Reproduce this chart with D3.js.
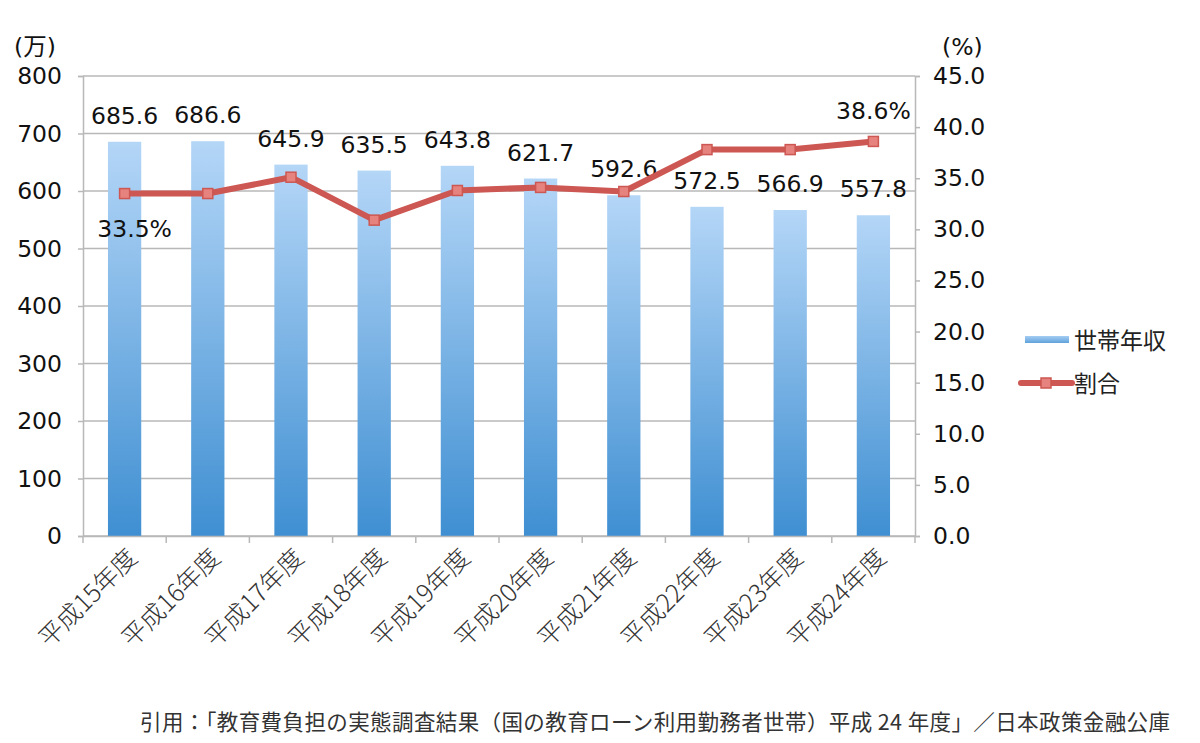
<!DOCTYPE html>
<html>
<head>
<meta charset="utf-8">
<script src="https://cdn.jsdelivr.net/npm/d3@7"></script>
<style>
  body { margin: 0; background: #fff; }
  text { font-family: "DejaVu Sans", "Noto Sans CJK JP", sans-serif; }
  .jp { font-family: "Noto Sans CJK JP", sans-serif; }
</style>
</head>
<body>
<div id="chart"></div>
<script>
// データ
const years = ['平成15年度','平成16年度','平成17年度','平成18年度','平成19年度','平成20年度','平成21年度','平成22年度','平成23年度','平成24年度'];
const income = [685.6, 686.6, 645.9, 635.5, 643.8, 621.7, 592.6, 572.5, 566.9, 557.8];
const ratio = [33.5, 33.5, 35.1, 30.9, 33.8, 34.1, 33.7, 37.8, 37.8, 38.6];
const leftTicks = [0, 100, 200, 300, 400, 500, 600, 700, 800];
const rightTicks = [0, 5, 10, 15, 20, 25, 30, 35, 40, 45];

const W = 1200, H = 743;
const pLeft = 83, pRight = 915, pTop = 76, pBottom = 536;
const fs = 23.5; // 数字のフォントサイズ

const svg = d3.select('#chart').append('svg').attr('width', W).attr('height', H);

const x = d3.scaleBand().domain(years).range([pLeft, pRight]).paddingInner(0.6).paddingOuter(0.3);
const xb = d3.scaleBand().domain(years).range([pLeft, pRight]);
const yL = d3.scaleLinear().domain([0, 800]).range([pBottom, pTop]);
const yR = d3.scaleLinear().domain([0, 45]).range([pBottom, pTop]);

// グラデーション
const defs = svg.append('defs');
const grad = defs.append('linearGradient')
  .attr('id', 'barGrad').attr('x1', 0).attr('y1', 0).attr('x2', 0).attr('y2', 1);
grad.append('stop').attr('offset', '0%').attr('stop-color', '#b4d6f7');
grad.append('stop').attr('offset', '100%').attr('stop-color', '#3f8fd2');

const lgrad = defs.append('linearGradient')
  .attr('id', 'legGrad').attr('x1', 0).attr('y1', 0).attr('x2', 0).attr('y2', 1);
lgrad.append('stop').attr('offset', '0%').attr('stop-color', '#a6cdf3');
lgrad.append('stop').attr('offset', '100%').attr('stop-color', '#5fa2dc');

// グリッド線
svg.append('g').selectAll('line').data(leftTicks).join('line')
  .attr('x1', pLeft).attr('x2', pRight)
  .attr('y1', d => yL(d)).attr('y2', d => yL(d))
  .attr('stroke', '#b8b8b8').attr('stroke-width', 1.5);

// 左軸
const gL = svg.append('g').attr('transform', `translate(${pLeft},0)`)
  .call(d3.axisLeft(yL).tickValues(leftTicks).tickSize(5).tickPadding(16));
gL.select('.domain').attr('stroke', '#b8b8b8').attr('stroke-width', 1.5);
gL.selectAll('.tick line').attr('stroke', '#b8b8b8').attr('stroke-width', 1.5);
gL.selectAll('text').attr('font-size', fs).attr('fill', '#111');

// 右軸
const gR = svg.append('g').attr('transform', `translate(${pRight},0)`)
  .call(d3.axisRight(yR).tickValues(rightTicks).tickSize(5).tickPadding(13).tickFormat(d3.format('.1f')));
gR.select('.domain').attr('stroke', '#b8b8b8').attr('stroke-width', 1.5);
gR.selectAll('.tick line').attr('stroke', '#b8b8b8').attr('stroke-width', 1.5);
gR.selectAll('text').attr('font-size', fs).attr('fill', '#111');

// 棒
svg.append('g').selectAll('rect').data(income).join('rect')
  .attr('x', (d, i) => x(years[i]))
  .attr('y', d => yL(d))
  .attr('width', x.bandwidth())
  .attr('height', d => pBottom - yL(d))
  .attr('fill', 'url(#barGrad)');

// X軸
const gX = svg.append('g').attr('transform', `translate(0,${pBottom})`)
  .call(d3.axisBottom(xb).tickSize(0).tickFormat(''));
gX.select('.domain').attr('stroke', '#b8b8b8').attr('stroke-width', 1.5);
svg.append('g').selectAll('line').data(d3.range(years.length + 1)).join('line')
  .attr('x1', i => pLeft + i * xb.step()).attr('x2', i => pLeft + i * xb.step())
  .attr('y1', pBottom).attr('y2', pBottom + 7)
  .attr('stroke', '#b8b8b8').attr('stroke-width', 1.5);

svg.append('g').selectAll('text').data(years).join('text')
  .attr('class', 'jp')
  .attr('transform', d => `translate(${xb(d) + xb.bandwidth() / 2 + 8},${pBottom + 17}) rotate(-45)`)
  .attr('text-anchor', 'end')
  .attr('dy', '0.35em')
  .attr('font-size', 25)
  .attr('font-weight', 300)
  .attr('fill', '#333')
  .text(d => d);

// 棒ラベル
svg.append('g').selectAll('text').data(income).join('text')
  .attr('x', (d, i) => x(years[i]) + x.bandwidth() / 2)
  .attr('y', d => yL(d) - 18)
  .attr('text-anchor', 'middle')
  .attr('font-size', fs)
  .attr('fill', '#111')
  .text(d => d.toFixed(1));

// 折れ線
const cx = (d, i) => xb(years[i]) + xb.bandwidth() / 2;
const line = d3.line().x(cx).y(d => yR(d));
svg.append('path').datum(ratio)
  .attr('d', line)
  .attr('fill', 'none')
  .attr('stroke', '#cd5752')
  .attr('stroke-width', 6)
  .attr('stroke-linejoin', 'round');

svg.append('g').selectAll('rect').data(ratio).join('rect')
  .attr('x', (d, i) => cx(d, i) - 5)
  .attr('y', d => yR(d) - 5)
  .attr('width', 10).attr('height', 10)
  .attr('fill', '#e7837e')
  .attr('stroke', '#cd5752').attr('stroke-width', 1.5);

// 割合ラベル (最初と最後)
svg.append('text')
  .attr('x', cx(ratio[0], 0) + 10).attr('y', yR(ratio[0]) + 43)
  .attr('text-anchor', 'middle').attr('font-size', fs).attr('fill', '#111')
  .text(ratio[0].toFixed(1) + '%');
const last = ratio.length - 1;
svg.append('text')
  .attr('x', cx(ratio[last], last)).attr('y', yR(ratio[last]) - 22)
  .attr('text-anchor', 'middle').attr('font-size', fs).attr('fill', '#111')
  .text(ratio[last].toFixed(1) + '%');

// 単位
const unit = svg.append('text').attr('x', 14).attr('y', 55).attr('font-size', fs).attr('fill', '#111');
unit.append('tspan').text('(');
unit.append('tspan').attr('class', 'jp').text('万');
unit.append('tspan').text(')');
svg.append('text').attr('x', 942).attr('y', 55).attr('font-size', fs).attr('fill', '#111').text('(%)');

// 凡例
svg.append('rect').attr('x', 1025).attr('y', 336).attr('width', 44).attr('height', 7).attr('fill', 'url(#legGrad)');
svg.append('text').attr('class', 'jp').attr('x', 1074).attr('y', 349).attr('font-size', 23).attr('fill', '#222').text('世帯年収');
svg.append('line').attr('x1', 1021).attr('x2', 1072).attr('y1', 383).attr('y2', 383)
  .attr('stroke', '#cd5752').attr('stroke-width', 6).attr('stroke-linecap', 'round');
svg.append('rect').attr('x', 1041).attr('y', 378).attr('width', 10).attr('height', 10)
  .attr('fill', '#e7837e').attr('stroke', '#cd5752').attr('stroke-width', 1.5);
svg.append('text').attr('class', 'jp').attr('x', 1074).attr('y', 392).attr('font-size', 23).attr('fill', '#222').text('割合');

// 出典
svg.append('text').attr('class', 'jp').attr('x', 140).attr('y', 730)
  .attr('font-size', 21.5).attr('fill', '#333')
  .attr('textLength', 1030).attr('lengthAdjust', 'spacing')
  .text('引用：「教育費負担の実態調査結果（国の教育ローン利用勤務者世帯）平成 24 年度」／日本政策金融公庫');
</script>
</body>
</html>
